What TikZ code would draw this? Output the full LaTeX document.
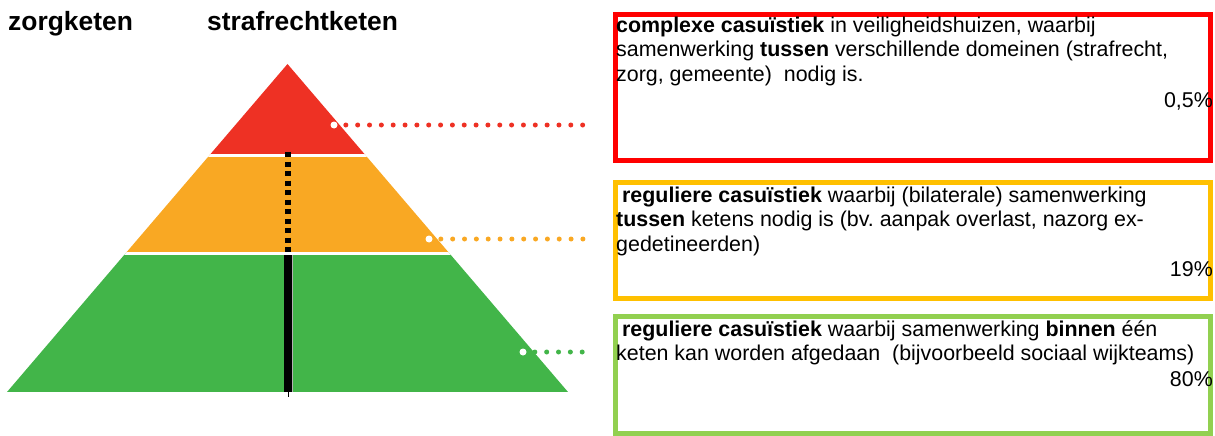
\documentclass[tikz,border=0pt]{standalone}
\usepackage{fontspec}
\setmainfont{Liberation Sans}
\frenchspacing
\definecolor{pyrred}{RGB}{238,49,36}
\definecolor{pyrorange}{RGB}{249,168,35}
\definecolor{pyrgreen}{RGB}{66,181,73}
\definecolor{boxred}{RGB}{255,0,0}
\definecolor{boxorange}{RGB}{255,192,0}
\definecolor{boxgreen}{RGB}{146,208,80}

\begin{document}
\begin{tikzpicture}[x=1pt, y=-1pt,
  box/.style={draw=#1, line width=5pt, minimum width=595pt, inner sep=0pt},
  txt/.style={anchor=base west, align=left, inner sep=0pt, font=\fontsize{21.4}{24.7}\selectfont},
  pct/.style={anchor=base east, inner sep=0pt, font=\fontsize{21.4}{24.7}\selectfont},
  kop/.style={anchor=base west, inner sep=0pt, font=\fontsize{26.4}{30}\selectfont\bfseries},
  dots/.style={draw=#1, line width=5pt, line cap=round, dash pattern=on 0pt off 11.84pt},
  wit/.style={circle, fill=white, minimum size=7pt, inner sep=0pt}]
\useasboundingbox (0,0) rectangle (1215,436);

% kopjes
\node[kop] (Zorg) at (8,31) {zorgketen};
\node[kop] (Straf) at (207,31) {strafrechtketen};

% piramide
\coordinate (Top) at (287.5,64);
\coordinate (BL) at (7,392);
\coordinate (BR) at (568,392);
\begin{scope}
\clip (Top) -- (BR) -- (BL) -- cycle;
\fill[pyrgreen] (0,253) rectangle (600,392);
\fill[pyrorange] (0,155) rectangle (600,253);
\fill[pyrred] (0,60) rectangle (600,155);
\draw[white, line width=3pt] (0,155) -- (600,155);
\draw[white, line width=3.5pt] (0,253.5) -- (600,253.5);
\end{scope}

% ketenlijn
\coordinate (V1) at (288,152);
\coordinate (V2) at (288,252);
\coordinate (V3) at (288,255);
\coordinate (V4) at (288,392);
\coordinate (V5) at (288,397);
\draw[line width=6pt, dash pattern=on 5pt off 4.5pt] (V1) -- (V2);
\draw[gray!60, line width=9pt] (V3) -- (V4);
\draw[line width=7.5pt] (V3) -- (V4);
\draw[line width=0.8pt] (V4) -- (V5);

% stippellijnen
\coordinate (E1) at (583.5,125);
\coordinate (E2) at (583.5,239);
\coordinate (E3) at (582.5,352);
\draw[dots=pyrred] (334,125) -- (E1);
\draw[dots=pyrorange] (429,239) -- (E2);
\draw[dots=pyrgreen] (523,352) -- (E3);
\node[wit] (D1) at (334,125) {};
\node[wit] (D2) at (429,239) {};
\node[wit] (D3) at (523,352) {};

% kaders
\node[box=boxred, minimum height=146pt] (B1) at (913,87.5) {};
\node[box=boxorange, minimum height=116pt] (B2) at (913,240.5) {};
\node[box=boxgreen, minimum height=116.5pt] (B3) at (913,374.75) {};

% teksten (base = laatste regel)
\node[txt] (T1) at (616,81.4) {\textbf{complexe casuïstiek} in veiligheidshuizen, waarbij\\
  samenwerking \textbf{tussen}\ verschillende domeinen (strafrecht,\\
  zorg, gemeente)\ \ nodig is.};
\node[pct] (P1) at (1213,107) {0,5\%};
\node[txt] (T2) at (616,251.4) {\ \textbf{reguliere casuïstiek} waarbij (bilaterale) samenwerking\\
  \textbf{tussen} ketens nodig is (bv. aanpak overlast, nazorg ex-\\
  gedetineerden)};
\node[pct] (P2) at (1213,276) {19\%};
\node[txt] (T3) at (616,360.7) {\ \textbf{reguliere casuïstiek} waarbij samenwerking \textbf{binnen} één\\
  keten kan worden afgedaan\ \ (bijvoorbeeld sociaal wijkteams)};
\node[pct] (P3) at (1213,386) {80\%};
\end{tikzpicture}
\end{document}
